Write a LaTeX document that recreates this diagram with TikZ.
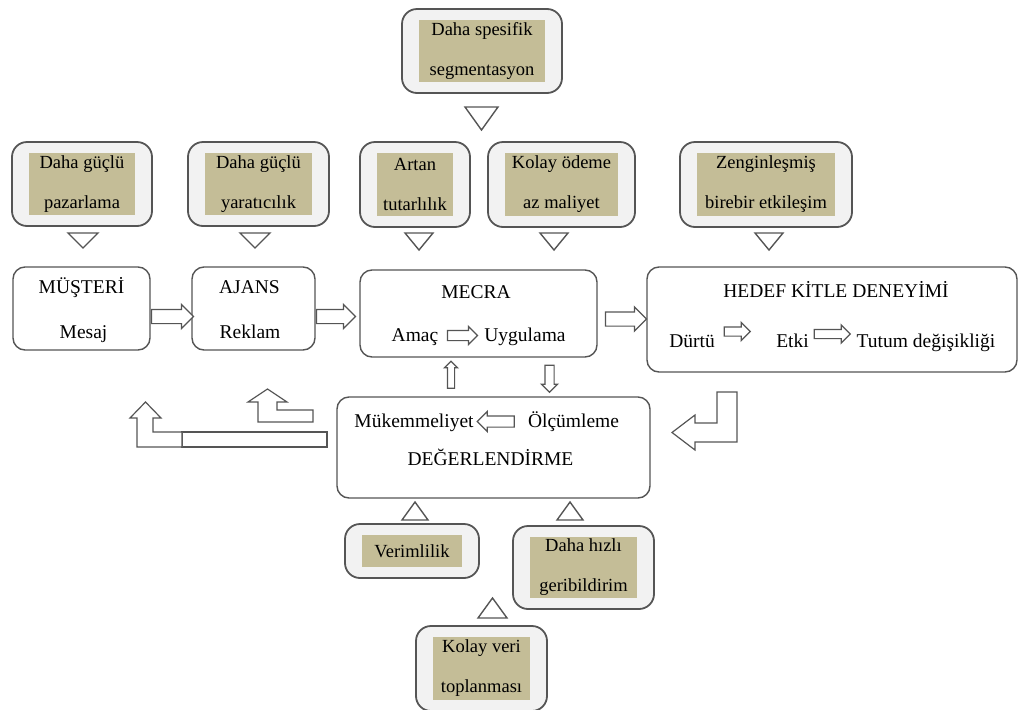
\documentclass[tikz,border=0pt]{standalone}
\usepackage{fontspec}
\setmainfont{Liberation Serif}
\newfontfamily\tms{Liberation Serif}
\usepackage{xcolor}
\usepackage{tikz}
\usetikzlibrary{shapes.arrows}
\definecolor{kutu}{HTML}{F2F2F2}
\definecolor{ten}{HTML}{C4BD97}
\definecolor{cizgi}{HTML}{555555}

\begin{document}
\begin{tikzpicture}[x={(1pt,0)}, y={(0,-1pt)}]
            \tikzstyle{ana} = [draw = cizgi, line width = 1.4pt, rounded corners = 12pt, fill = white, inner sep = 0pt];
            \tikzstyle{dis} = [draw = cizgi, line width = 1.8pt, rounded corners = 15pt, fill = kutu];
            \tikzstyle{ic} = [fill = ten, inner sep = 0pt, align = center, font = \tms\fontsize{18.5}{40}\selectfont];
            \tikzstyle{yazi} = [inner sep = 0pt, text height = 13pt, text depth = 4pt, font = \tms\fontsize{19.5}{24}\selectfont];
            \tikzstyle{ok} = [single arrow, draw = cizgi, fill = white, line width = 1.2pt, inner xsep = 0pt, minimum width = 0pt];
            \tikzstyle{bukum} = [draw = cizgi, fill = white, line width = 1.2pt];
            \tikzstyle{ucgen} = [draw = cizgi, line width = 1.4pt, fill = white];
            \useasboundingbox (0,0) rectangle (1021,710);
            \foreach \n/\x/\y/\w/\h/\t in {seg/482/51/126/62/{Daha spesifik\\segmentasyon},
                paz/82/184/106/62/{Daha güçlü\\pazarlama},
                yar/258.5/184/107/62/{Daha güçlü\\yaratıcılık},
                art/415/184.5/76/63/{Artan\\tutarlılık},
                kol/561.5/184.5/113/63/{Kolay ödeme\\az maliyet},
                zen/766/184.5/138/63/{Zenginleşmiş\\birebir etkileşim},
                ver/412/551/100/32/{Verimlilik},
                hiz/583.5/567.5/107/61/{Daha hızlı\\geribildirim},
                top/481.5/668.5/97/63/{Kolay veri\\toplanması}}
            {
            \draw[dis] (\x-\w/2-17,\y-\h/2-11) rectangle (\x+\w/2+17,\y+\h/2+11);
            \node[ic, minimum width = \w, minimum height = \h] (\n) at (\x,\y) {\t};}
            \foreach \a/\b/\c/\d in {465/498/107/130, 68/98/233/248, 240/270/233/248, 405/433/233/250,
                540/568/233/250, 755/783/233/250, 402/428/520/502, 557/583/520/502, 478/507/618/598}
            {\draw[ucgen] (\a,\c) -- (\b,\c) -- ({(\a+\b)/2},\d) -- cycle;}
            \foreach \n/\a/\b/\c/\d in {mus/13/267/150/350, ajans/192/267/315/350, mecra/360/270/597/357,
                hedef/647/267/1017/372, deg/337/397/650/498}
            {\node[ana, minimum width = \c-\a, minimum height = \d-\b] (\n) at ({(\a+\c)/2},{(\b+\d)/2}) {};}
            \foreach \n/\x/\y/\t in {mus1/81.5/289/MÜŞTERİ, mus2/83.5/334/Mesaj, ajans1/249.5/289/AJANS,
                ajans2/250/334/Reklam, mecra1/476/294/MECRA, mecra2/415/337/Amaç, mecra3/525/337/Uygulama,
                hedef1/836/293/{HEDEF KİTLE DENEYİMİ}, hedef2/692/343/Dürtü, hedef3/792.5/343/Etki,
                hedef4/926/343/{Tutum değişikliği}, deg1/414/423/Mükemmeliyet, deg2/573.5/423/Ölçümleme,
                deg3/490.5/461/DEĞERLENDİRME}
            {\node[yazi] (\n) at (\x,\y) {\t};}
            \foreach \n/\x/\y/\l/\s/\e/\r in {ok1/169/316.5/42/6.5/5/0, ok2/332.5/316.5/39/6.5/5/0,
                ok3/622.5/319/41/6.5/5/0, ok4/460/335.5/30/4.5/4/0, ok5/735/331.5/26/4/4.5/0,
                ok6/830/334/36/4/4.5/0, ok7/498.5/421.5/37/5/4.5/180, ok8/451/376.5/27/3/3/90,
                ok9/549.5/376.5/27/4/3.5/-90}
            {\node[ok, minimum height = \l, inner ysep = \s, single arrow head extend = \e, rotate = \r] (\n) at (\x,\y) {};}
            \draw[bukum] (717,392) -- (737,392) -- (737,442) -- (695,442) -- (695,450) -- (672,432.5)
                -- (695,415) -- (695,423) -- (717,423) -- cycle;
            \draw[bukum] (182,432) rectangle (327,447);
            \draw[bukum] (137,447) -- (137,418) -- (130,418) -- (145.5,402) -- (161,418) -- (153,418)
                -- (153,432) -- (182,432) -- (182,447) -- cycle;
            \draw[bukum] (258,422) -- (258,402) -- (248,402) -- (267.5,389) -- (287,402) -- (277,402)
                -- (277,410) -- (313,410) -- (313,422) -- cycle;
        \end{tikzpicture}
\end{document}
